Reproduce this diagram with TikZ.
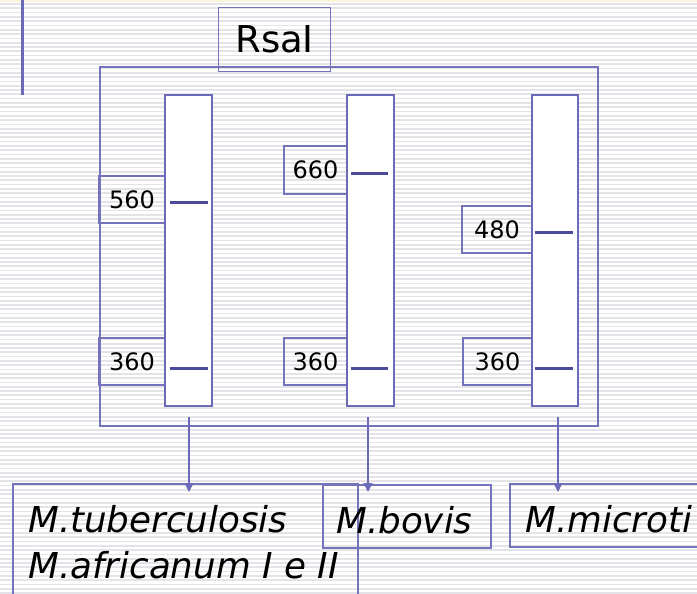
\documentclass[tikz,border=0pt]{standalone}
\usepackage{fontspec}
\setmainfont{DejaVu Sans}
\usetikzlibrary{arrows.meta,calc}
\definecolor{fr}{HTML}{7474BC}
\definecolor{ln}{HTML}{6A6AB8}
\definecolor{bd}{HTML}{4C4C9E}
\definecolor{stripe}{HTML}{E4E4E8}
\definecolor{topy}{HTML}{FAF4DA}
\newcommand{\numfont}{\fontsize{24}{28}\selectfont}
\newcommand{\namefont}{\fontsize{35.7}{40}\selectfont\itshape}
\tikzset{
  frm/.style={draw=fr, line width=1.4pt},
  lanebox/.style={draw=ln, fill=white, line width=1.5pt, minimum width=47pt, minimum height=311pt, anchor=north west, inner sep=0pt, outer sep=0pt},
  labbox/.style={draw=fr, line width=1.2pt, anchor=north west, inner sep=0pt, outer sep=0pt, minimum height=47pt, font=\numfont, text=black},
  band/.style={draw=bd, line width=3pt},
  arr/.style={draw=ln, line width=1.3pt, -{Triangle[width=9pt,length=9pt]}},
  namebox/.style={draw=fr, line width=1.2pt, anchor=north west, inner sep=0pt, outer sep=0pt},
  nametext/.style={anchor=base west, font=\namefont, text=black, inner sep=0pt},
}
\begin{document}
\begin{tikzpicture}[x=1pt,y=-1pt]
\useasboundingbox (0,0) rectangle (697,594);
\clip (0,0) rectangle (697,594);
% background stripes
\fill[white] (0,0) rectangle (697,594);
\foreach \i in {0,...,138} {
  \draw[stripe, line width=1.7pt] (0,{4+4.3*\i}) -- (697,{4+4.3*\i});
}
\fill[topy] (0,0) rectangle (697,2.5);
% left bar
\draw[ln, line width=3pt] (22,0) -- (22,95);
% frame
\draw[frm] (100,67) rectangle (598,426);
% RsaI label
\node[draw=fr, line width=1.2pt, anchor=north west, minimum width=112pt, minimum height=64pt, inner sep=0pt,
      font=\fontsize{37}{40}\selectfont, text=black] (rsa) at (218,7) {RsaI};
% size labels
\node[labbox, minimum width=66pt] (l560) at (99,176) {560};
\node[labbox, minimum width=66pt] (l360a) at (99,338) {360};
\node[labbox, minimum width=63pt, minimum height=48pt] (l660) at (284,146) {660};
\node[labbox, minimum width=63pt] (l360b) at (284,338) {360};
\node[labbox, minimum width=70pt] (l480) at (462,206) {480};
\node[labbox, minimum width=69pt] (l360c) at (463,338) {360};
% lanes
\node[lanebox] (lane1) at (165,95) {};
\node[lanebox] (lane2) at (347,95) {};
\node[lanebox, minimum width=46pt] (lane3) at (532,95) {};
% bands
\draw[band] (170,202) -- (208,202);
\draw[band] (170,368) -- (208,368);
\draw[band] (351,173) -- (388,173);
\draw[band] (351,368) -- (388,368);
\draw[band] (535,232) -- (573,232);
\draw[band] (535,368) -- (573,368);
% bottom boxes
\node[namebox, minimum width=345pt, minimum height=130pt] (boxA) at (13,484) {};
\node[namebox, minimum width=168pt, minimum height=63pt] (boxB) at (323,485) {};
\node[namebox, minimum width=200pt, minimum height=63pt] (boxC) at (510,484) {};
\node[nametext] (tA1) at (28,532) {M.tuberculosis};
\node[nametext] (tA2) at (28,578) {M.africanum I e II};
\node[nametext] (tB) at (336,533) {M.bovis};
\node[nametext] (tC) at (525,532) {M.microti};
% arrows
\coordinate (a1s) at (189,417); \coordinate (a1e) at (189,492);
\coordinate (a2s) at (368,417); \coordinate (a2e) at (368,492);
\coordinate (a3s) at (558,417); \coordinate (a3e) at (558,492);
\draw[arr] (a1s) -- (a1e);
\draw[arr] (a2s) -- (a2e);
\draw[arr] (a3s) -- (a3e);
\end{tikzpicture}
\end{document}
